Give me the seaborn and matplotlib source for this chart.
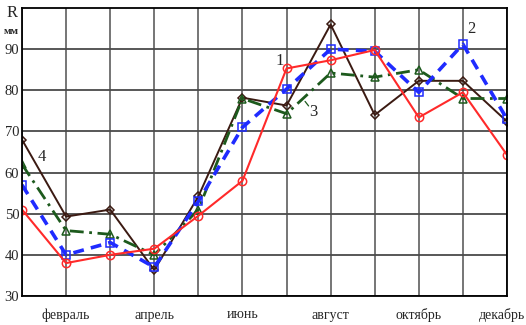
import matplotlib
matplotlib.use("Agg")
import matplotlib.pyplot as plt
import matplotlib.transforms as mtransforms
import numpy as np
import pandas as pd
import seaborn as sns

MONTHS = ["январь", "февраль", "март", "апрель", "май", "июнь", "июль",
          "август", "сентябрь", "октябрь", "ноябрь", "декабрь"]
TICK_MONTHS = ["февраль", "апрель", "июнь", "август", "октябрь", "декабрь"]

SERIES_1 = [51, 38, 40, 41.5, 49.5, 58, 85.3, 87.3, 89.8, 73.4, 79.5, 64.3]
SERIES_2 = [57, 40, 43, 37, 53, 71, 80.3, 90, 89.5, 79.5, 91.2, 73]
SERIES_3 = [62, 45.9, 45, 40, 51, 78, 74.3, 84.2, 83.2, 85, 78, 78]
SERIES_4 = [68, 49.3, 51, 36.3, 54.2, 78.2, 76.3, 96, 74, 82.3, 82.3, 72.4]

STYLES = {
    "1": dict(color="#ff2a2a", ls="-", lw=1.5, marker="o", ms=6),
    "2": dict(color="#1f2bff", ls=(0, (3, 2)), lw=2.6, marker="s", ms=6),
    "3": dict(color="#1d5a1d", ls=(0, (5, 2, 1, 2)), lw=2.0, marker="^", ms=6),
    "4": dict(color="#3b1a12", ls="-", lw=1.4, marker="D", ms=4.5),
}

df = pd.DataFrame({"month": np.arange(len(MONTHS))})
df["1"] = SERIES_1
df["2"] = SERIES_2
df["3"] = SERIES_3
df["4"] = SERIES_4

sns.set_theme(style="white")
plt.rcParams["font.family"] = ["Liberation Serif", "DejaVu Serif"]

fig = plt.figure(figsize=(5.26, 3.25), dpi=100)
ax = fig.add_axes([22 / 526, 29 / 325, 485 / 526, 288 / 325])

for name in ["4", "3", "2", "1"]:
    st = STYLES[name]
    sns.lineplot(data=df, x="month", y=name, ax=ax, color=st["color"],
                 linewidth=st["lw"], marker=st["marker"], markersize=st["ms"],
                 markerfacecolor="none", markeredgecolor=st["color"],
                 markeredgewidth=1.1, legend=False)
    ax.lines[-1].set_linestyle(st["ls"])

ax.set_xlim(0, 11)
ax.set_ylim(30, 100)
ax.set_xticks([MONTHS.index(m) for m in TICK_MONTHS])
ax.set_xticklabels(TICK_MONTHS, fontsize=10)
ax.set_xticks(range(12), minor=True)
ax.set_yticks([30, 40, 50, 60, 70, 80, 90])
ax.set_yticklabels(["30", "40", "50", "60", "70", "80", "90"], fontsize=10.5)
ax.tick_params(axis="x", which="both", length=0, pad=9)
ax.tick_params(axis="y", length=0, pad=2)
ax.set_xlabel("")
ax.set_ylabel("")

# last label sits against the right edge in the original
last = ax.get_xticklabels()[-1]
last.set_transform(last.get_transform()
                   + mtransforms.ScaledTranslation(-5 / 100, 0, fig.dpi_scale_trans))

ax.grid(True, which="both", axis="x", color="#6a6a6a", linewidth=1.3)
ax.grid(True, which="major", axis="y", color="#4a4a4a", linewidth=1.3)
ax.set_axisbelow(True)
for sp in ax.spines.values():
    sp.set_color("black")
    sp.set_linewidth(1.3)

ax.text(5.85, 87.2, "1", fontsize=12, ha="center", va="center")
ax.text(10.2, 95.0, "2", fontsize=12, ha="center", va="center")
ax.text(6.6, 74.8, "3", fontsize=12, ha="center", va="center")
ax.plot([6.42, 6.5], [77.3, 76.2], color="#1d5a1d", lw=0.9)
ax.text(0.45, 63.7, "4", fontsize=12, ha="center", va="center")

fig.text(12 / 526, 1 - 13 / 325, "R", fontsize=12, ha="center", va="center")
fig.text(11 / 526, 1 - 32 / 325, "мм", fontsize=8, ha="center", va="center",
         fontweight="bold")

fig.savefig("out.png", dpi=100)
